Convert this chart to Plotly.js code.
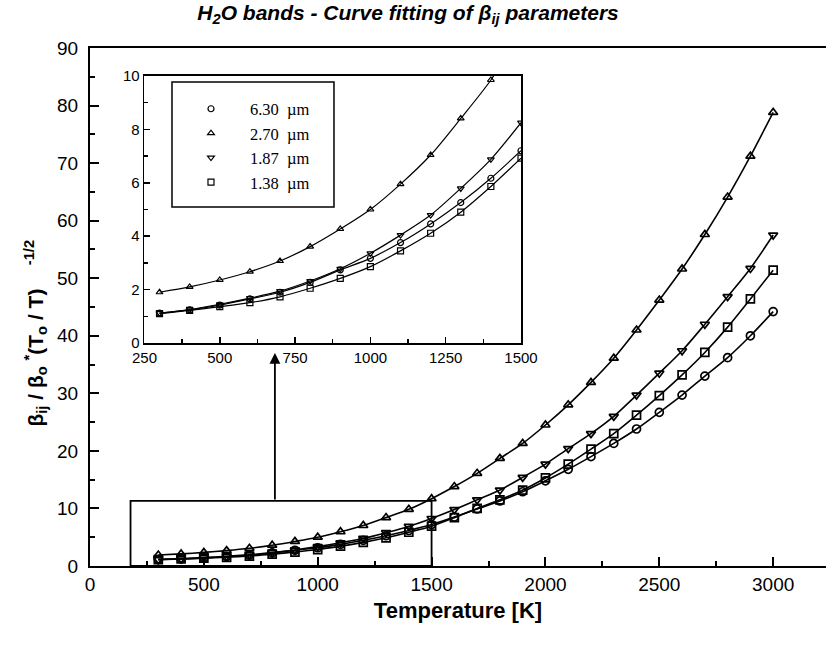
<!DOCTYPE html>
<html>
<head>
<meta charset="utf-8">
<script src="https://cdn.plot.ly/plotly-3.0.1.min.js"></script>
<style>
  html, body { margin: 0; padding: 0; background: #fff; }
  #chart { width: 826px; height: 645px; }
</style>
</head>
<body>
<div id="chart"></div>
<script>
// Temperature grid [K]
const temperature = [300, 400, 500, 600, 700, 800, 900, 1000, 1100, 1200, 1300, 1400, 1500,
  1600, 1700, 1800, 1900, 2000, 2100, 2200, 2300, 2400, 2500, 2600, 2700, 2800, 2900, 3000];

// Fitted beta_ij parameters per band
const band630 = [1.12, 1.24, 1.42, 1.65, 1.90, 2.27, 2.74, 3.17, 3.76, 4.46, 5.26, 6.17, 7.20,
  8.5, 9.9, 11.3, 12.9, 14.8, 16.8, 19.0, 21.3, 23.8, 26.7, 29.7, 33.0, 36.2, 40.0, 44.2];
const band270 = [1.90, 2.10, 2.36, 2.67, 3.07, 3.61, 4.27, 5.00, 5.95, 7.04, 8.41, 9.85, 11.7,
  13.8, 16.1, 18.7, 21.3, 24.5, 28.0, 31.9, 36.1, 41.0, 46.2, 51.6, 57.6, 64.1, 71.2, 78.8];
const band187 = [1.12, 1.25, 1.45, 1.68, 1.94, 2.32, 2.78, 3.36, 4.04, 4.79, 5.79, 6.88, 8.25,
  9.8, 11.5, 13.2, 15.4, 17.7, 20.4, 23.0, 26.0, 29.7, 33.5, 37.4, 42.0, 46.8, 51.7, 57.5];
const band138 = [1.10, 1.22, 1.36, 1.51, 1.73, 2.05, 2.42, 2.86, 3.45, 4.11, 4.90, 5.86, 6.92,
  8.4, 10.0, 11.5, 13.2, 15.3, 17.7, 20.3, 23.0, 26.2, 29.6, 33.2, 37.1, 41.5, 46.4, 51.4];

const bandNames = ['6.30\u00a0\u00a0µm', '2.70\u00a0\u00a0µm', '1.87\u00a0\u00a0µm', '1.38\u00a0\u00a0µm'];
const bandSymbols = ['circle-open', 'triangle-up-open', 'triangle-down-open', 'square-open'];
const bandValues = [band630, band270, band187, band138];

// Inset covers the low-temperature part of the grid
const insetLimit = 1500;

const traces = [];
bandValues.forEach((vals, i) => {
  // main panel: smooth fit line + data markers
  traces.push({
    x: temperature, y: vals, type: 'scatter', mode: 'lines',
    line: { color: '#000', width: 1.6, shape: 'spline', smoothing: 0.8 },
    showlegend: false, hoverinfo: 'skip', xaxis: 'x', yaxis: 'y'
  });
  traces.push({
    x: temperature, y: vals, type: 'scatter', mode: 'markers',
    marker: { symbol: bandSymbols[i], size: 8, color: '#000', line: { width: 1.7, color: '#000' } },
    showlegend: false, xaxis: 'x', yaxis: 'y'
  });
  // inset panel: same band restricted to T <= 1500 K
  const tIn = temperature.filter(t => t <= insetLimit);
  const vIn = vals.slice(0, tIn.length);
  traces.push({
    x: tIn, y: vIn, type: 'scatter', mode: 'lines',
    line: { color: '#000', width: 1.2, shape: 'spline', smoothing: 0.8 },
    showlegend: false, hoverinfo: 'skip', xaxis: 'x2', yaxis: 'y2', cliponaxis: true
  });
  traces.push({
    x: tIn, y: vIn, type: 'scatter', mode: 'markers', name: bandNames[i],
    marker: { symbol: bandSymbols[i], size: 6, color: '#000', line: { width: 1.2, color: '#000' } },
    showlegend: true, xaxis: 'x2', yaxis: 'y2', cliponaxis: true
  });
});

const sans = 'Liberation Sans, Arial, Helvetica, sans-serif';
const serif = 'Liberation Serif, Times New Roman, serif';
const nb = '\u00a0';

const layout = {
  width: 826, height: 645,
  margin: { l: 90, r: 0, t: 48, b: 79 },
  paper_bgcolor: '#fff', plot_bgcolor: '#fff',
  showlegend: true,
  title: {
    text: '<b><i>H<sub>2</sub>O bands - Curve fitting of β<sub>ij</sub> parameters</i></b>',
    font: { family: sans, size: 21, color: '#000' },
    x: 0.494, xanchor: 'center', y: 0.992, yanchor: 'top'
  },
  xaxis: {
    range: [0, 3232], domain: [0, 1],
    tickmode: 'linear', tick0: 0, dtick: 500,
    ticks: 'inside', ticklen: 9, tickwidth: 2, tickcolor: '#000',
    minor: { dtick: 250, ticks: 'inside', ticklen: 5, tickwidth: 2, tickcolor: '#000' },
    showline: true, linewidth: 2, linecolor: '#000', mirror: true,
    showgrid: false, zeroline: false,
    tickfont: { family: sans, size: 19, color: '#000' },
    title: { text: '<b>Temperature [K]</b>', font: { family: sans, size: 22, color: '#000' }, standoff: 9 }
  },
  yaxis: {
    range: [0, 90], domain: [0, 1],
    tickmode: 'linear', tick0: 0, dtick: 10,
    ticks: 'inside', ticklen: 9, tickwidth: 2, tickcolor: '#000',
    minor: { dtick: 5, ticks: 'inside', ticklen: 5, tickwidth: 2, tickcolor: '#000' },
    showline: true, linewidth: 2, linecolor: '#000', mirror: false,
    showgrid: false, zeroline: false, ticklabelstandoff: 6,
    tickfont: { family: sans, size: 19, color: '#000' },
    title: {
      text: '<b>β<sub>ij</sub> / β<sub>o</sub> <sup>*</sup>(T<sub>o</sub> / T)' + nb.repeat(4) +
        '<sup>-1/2</sup>' + nb.repeat(9) + '</b>',
      font: { family: sans, size: 21, color: '#000' }, standoff: 8
    }
  },
  xaxis2: {
    anchor: 'y2', domain: [0.074, 0.5856],
    range: [250, 1500],
    tickmode: 'linear', tick0: 250, dtick: 250,
    ticks: 'inside', ticklen: 6, tickwidth: 1.5, tickcolor: '#000',
    minor: { dtick: 125, ticks: 'inside', ticklen: 4, tickwidth: 1.5, tickcolor: '#000' },
    showline: true, linewidth: 1.8, linecolor: '#000', mirror: true,
    showgrid: false, zeroline: false,
    tickfont: { family: sans, size: 15, color: '#000' }
  },
  yaxis2: {
    anchor: 'x2', domain: [0.4305, 0.946],
    range: [0, 10],
    tickmode: 'linear', tick0: 0, dtick: 2,
    ticks: 'inside', ticklen: 6, tickwidth: 1.5, tickcolor: '#000',
    minor: { dtick: 1, ticks: 'inside', ticklen: 4, tickwidth: 1.5, tickcolor: '#000' },
    showline: true, linewidth: 1.8, linecolor: '#000', mirror: true,
    showgrid: false, zeroline: false,
    tickfont: { family: sans, size: 15, color: '#000' }
  },
  legend: {
    x: 0.1114, y: 0.916, xanchor: 'left', yanchor: 'top',
    bgcolor: 'rgba(255,255,255,0)', borderwidth: 0,
    itemwidth: 68, tracegroupgap: 0,
    font: { family: serif, size: 16.5, color: '#000' }
  },
  shapes: [
    // legend frame inside the inset
    { type: 'rect', xref: 'paper', yref: 'paper',
      x0: 0.1114, x1: 0.3315, y0: 0.693, y1: 0.9344,
      line: { color: '#000', width: 1.5 }, fillcolor: 'rgba(0,0,0,0)' },
    // region of the main panel that the inset magnifies
    { type: 'rect', xref: 'x', yref: 'y', x0: 178, x1: 1500, y0: 0, y1: 11.3,
      line: { color: '#000', width: 1.8 }, fillcolor: 'rgba(0,0,0,0)' }
  ],
  annotations: [
    { xref: 'x', yref: 'y', axref: 'x', ayref: 'y',
      x: 812, y: 37, ax: 812, ay: 11.3,
      showarrow: true, arrowhead: 2, arrowsize: 1.2, arrowwidth: 1.8, arrowcolor: '#000', text: '' }
  ]
};

Plotly.newPlot('chart', traces, layout, { displayModeBar: false, staticPlot: true });
</script>
</body>
</html>
